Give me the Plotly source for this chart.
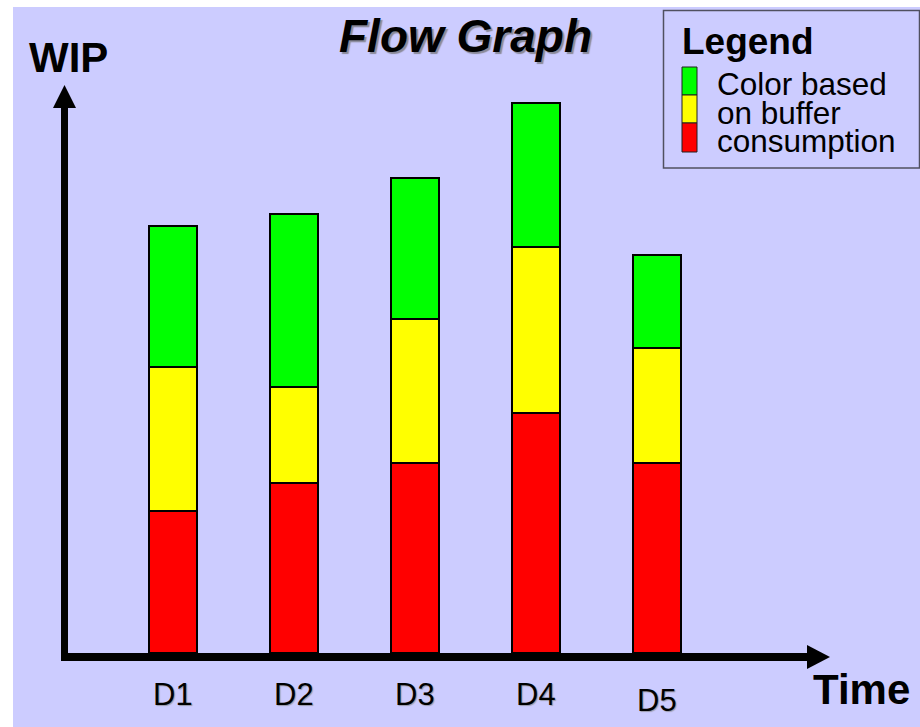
import plotly.graph_objects as go

# ---- data ----
days = ["D1", "D2", "D3", "D4", "D5"]
red_wip = [5.9, 7.1, 7.9, 10.0, 7.9]
yellow_wip = [6.0, 4.0, 6.0, 6.9, 4.8]
green_wip = [5.9, 7.2, 5.9, 6.0, 3.9]
series_names = ["red", "yellow", "green"]
series_colors = ["#FF0000", "#FFFF00", "#00FF00"]
legend_title = "Legend"
legend_lines = ["Color based", "on buffer", "consumption"]
title_text = "Flow Graph"
y_label = "WIP"
x_label = "Time"

W, H = 920, 727
LAV = "#CCCCFF"
FONT = "Liberation Sans, Arial, sans-serif"


def px(x):
    return x / W


def py(y):
    return 1 - y / H


fig = go.Figure()
for name, vals, col in zip(series_names, [red_wip, yellow_wip, green_wip], series_colors):
    fig.add_bar(x=days, y=vals, name=name, width=0.397,
                marker=dict(color=col, line=dict(color="black", width=2)),
                showlegend=False, hoverinfo="skip")

shapes = []
# background panel
shapes.append(dict(type="rect", xref="paper", yref="paper", x0=px(13), x1=px(921),
                   y0=py(7), y1=py(728), fillcolor=LAV, line=dict(width=0), layer="below"))
# axes (arrows)
shapes.append(dict(type="rect", xref="paper", yref="paper", x0=px(61), x1=px(68),
                   y0=py(661), y1=py(106), fillcolor="black", line=dict(width=0)))
shapes.append(dict(type="rect", xref="paper", yref="paper", x0=px(61), x1=px(809),
                   y0=py(661), y1=py(653), fillcolor="black", line=dict(width=0)))
shapes.append(dict(type="path", xref="paper", yref="paper",
                   path=f"M {px(53)},{py(108)} L {px(76)},{py(108)} L {px(64.5)},{py(85)} Z",
                   fillcolor="black", line=dict(width=0)))
shapes.append(dict(type="path", xref="paper", yref="paper",
                   path=f"M {px(807)},{py(645)} L {px(807)},{py(669)} L {px(830)},{py(657)} Z",
                   fillcolor="black", line=dict(width=0)))
# legend box
shapes.append(dict(type="rect", xref="paper", yref="paper", x0=px(663.5), x1=px(919.5),
                   y0=py(10.5), y1=py(168), fillcolor="rgba(0,0,0,0)",
                   line=dict(color="#505060", width=1.5)))
# legend swatches (green top, yellow, red bottom)
sw_tops = [67, 95, 123, 152]
for i, col in enumerate(reversed(series_colors)):
    shapes.append(dict(type="rect", xref="paper", yref="paper", x0=px(682), x1=px(697),
                       y0=py(sw_tops[i + 1]), y1=py(sw_tops[i]), fillcolor=col,
                       line=dict(color="#202020", width=1)))

ann = []
ann.append(dict(text=f"<b><i>{title_text}</i></b>", xref="paper", yref="paper",
                x=px(466), y=py(36), xanchor="center", yanchor="middle",
                showarrow=False,
                font=dict(family=FONT, size=46, color="black",
                          shadow="2px 2px 1px #8a8a9a")))
ann.append(dict(text=f"<b>{y_label}</b>", xref="paper", yref="paper", x=px(68.5), y=py(57),
                xanchor="center", yanchor="middle", showarrow=False,
                font=dict(family=FONT, size=42, color="black")))
ann.append(dict(text=f"<b>{x_label}</b>", xref="paper", yref="paper", x=px(861), y=py(689),
                xanchor="center", yanchor="middle", showarrow=False,
                font=dict(family=FONT, size=42, color="black")))
# tick labels
for i, d in enumerate(days):
    yc = 694 + (6 if i == len(days) - 1 else 0)
    ann.append(dict(text=d, xref="x", yref="paper", x=d, y=py(yc), xanchor="center",
                    yanchor="middle", showarrow=False,
                    font=dict(family=FONT, size=31, color="black",
                              shadow="1px 1px 1px #9a9aaa")))
# legend texts
ann.append(dict(text=f"<b>{legend_title}</b>", xref="paper", yref="paper", x=px(680), y=py(41),
                xanchor="left", yanchor="middle", showarrow=False,
                font=dict(family=FONT, size=37, color="black")))
for i, t in enumerate(legend_lines):
    ann.append(dict(text=t, xref="paper", yref="paper", x=px(716), y=py(84 + 28.7 * i),
                    xanchor="left", yanchor="middle", showarrow=False, borderpad=0,
                    font=dict(family=FONT, size=31.5, color="black")))

fig.update_layout(
    barmode="stack", width=W, height=H,
    margin=dict(l=0, r=0, t=0, b=0),
    paper_bgcolor="white", plot_bgcolor="rgba(0,0,0,0)",
    xaxis=dict(range=[-173.2 / 121, (920 - 173.2) / 121], visible=False, fixedrange=True),
    yaxis=dict(range=[-74 / 24, 653 / 24], visible=False, fixedrange=True),
    shapes=shapes, annotations=ann, bargap=0,
)
fig.write_html("out.html", config={"displayModeBar": False},
               post_script="document.body.style.margin='0';document.body.style.overflow='hidden';")
